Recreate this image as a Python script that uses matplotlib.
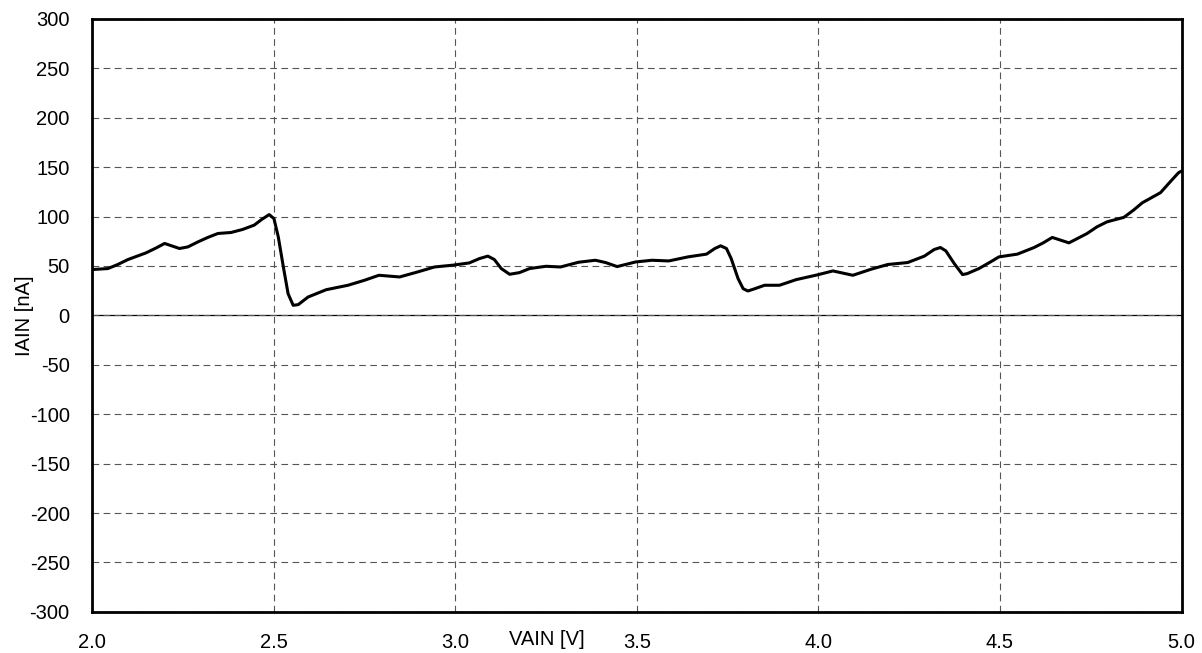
import matplotlib.pyplot as plt

plt.rcParams["font.family"] = ["Liberation Sans", "DejaVu Sans"]
plt.rcParams["axes.unicode_minus"] = False

# VAIN [V] vs IAIN [nA]
vain = [2.000, 2.044, 2.071, 2.099, 2.149, 2.177, 2.200, 2.241, 2.264, 2.292,
        2.319, 2.347, 2.383, 2.415, 2.447, 2.467, 2.488, 2.501, 2.513, 2.527,
        2.540, 2.554, 2.568, 2.595, 2.645, 2.705, 2.750, 2.790, 2.847, 2.897,
        2.943, 2.993, 3.039, 3.067, 3.090, 3.108, 3.127, 3.150, 3.177, 3.205,
        3.250, 3.290, 3.340, 3.386, 3.414, 3.446, 3.497, 3.542, 3.588, 3.641,
        3.692, 3.715, 3.731, 3.747, 3.760, 3.779, 3.793, 3.806, 3.825, 3.852,
        3.893, 3.939, 3.996, 4.040, 4.095, 4.145, 4.191, 4.246, 4.292, 4.319,
        4.336, 4.351, 4.374, 4.397, 4.410, 4.442, 4.474, 4.497, 4.548, 4.594,
        4.619, 4.644, 4.690, 4.740, 4.767, 4.795, 4.841, 4.868, 4.892, 4.942,
        4.969, 4.992, 5.000]
iain = [46.4, 47.4, 51.5, 56.5, 63.3, 68.3, 72.8, 67.7, 69.3, 74.4,
        78.9, 82.9, 83.9, 87.0, 91.4, 97.0, 102.0, 98.0, 79.5, 49.0,
        22.0, 10.2, 10.9, 18.6, 26.0, 30.5, 35.5, 40.6, 38.9, 44.0,
        49.0, 50.8, 53.1, 57.5, 60.0, 56.5, 47.4, 41.6, 43.3, 47.4,
        49.7, 49.0, 53.8, 55.8, 53.5, 49.4, 54.1, 55.8, 55.1, 59.2,
        62.0, 67.7, 70.4, 67.7, 57.5, 37.2, 27.0, 24.7, 27.0, 30.5,
        30.5, 36.2, 40.9, 45.0, 40.6, 46.7, 51.5, 53.5, 60.0, 66.7,
        68.7, 65.3, 52.5, 41.3, 42.3, 47.4, 54.1, 59.2, 62.0, 68.7,
        73.4, 78.9, 73.4, 82.9, 89.6, 94.7, 99.2, 106.6, 114.0, 124.2,
        135.3, 144.5, 146.0]

x_ticks = [2.0, 2.5, 3.0, 3.5, 4.0, 4.5, 5.0]
y_ticks = list(range(-300, 301, 50))

fig = plt.figure(figsize=(12.02, 6.53), dpi=100)
ax = fig.add_axes([0.0765, 0.063, 0.9065, 0.908])

ax.plot(vain, iain, color="black", lw=2.2, solid_joinstyle="round", solid_capstyle="round")
ax.axhline(0, color="black", lw=0.9, zorder=1)

ax.set_xlim(2.0, 5.0)
ax.set_ylim(-300, 300)
ax.set_xticks(x_ticks)
ax.set_xticklabels([f"{t:.1f}" for t in x_ticks])
ax.set_yticks(y_ticks)
ax.grid(True, color="#555555", ls=(0, (6, 4)), lw=0.8)
ax.tick_params(length=0, labelsize=14.5)
ax.tick_params(axis="y", pad=16)
ax.tick_params(axis="x", pad=15)
for s in ax.spines.values():
    s.set_linewidth(2.0)

ax.set_ylabel("IAIN [nA]", fontsize=14.5)
ax.yaxis.set_label_coords(-0.053, 0.5)
fig.text(0.455, 0.006, "VAIN [V]", fontsize=14.5, ha="center", va="bottom")

fig.savefig("out.png", dpi=100)
